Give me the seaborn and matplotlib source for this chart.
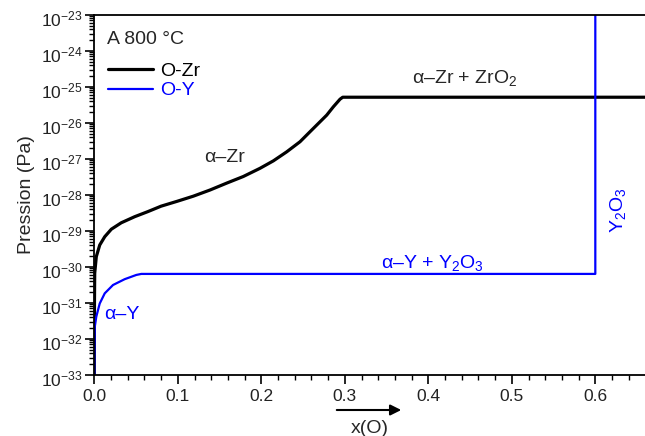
import numpy as np
import pandas as pd
import matplotlib
matplotlib.use("Agg")
import matplotlib.pyplot as plt
from matplotlib.ticker import LogLocator, NullFormatter, MultipleLocator, FormatStrFormatter
from matplotlib.transforms import ScaledTranslation
from matplotlib.lines import Line2D
import seaborn as sns

# ---- data ----
zr_x = [0.0, 0.0002, 0.0005, 0.0024, 0.0065, 0.0125, 0.0204, 0.0323, 0.0484, 0.0643,
        0.0800, 0.0987, 0.1186, 0.1386, 0.1586, 0.1784, 0.1984, 0.2144, 0.2304,
        0.2463, 0.2583, 0.2783, 0.2862, 0.2943, 0.2975, 0.66]
zr_p = [1e-33, 1e-31, 6.6e-31, 1.9e-30, 4.0e-30, 6.8e-30, 1.1e-29, 1.66e-29, 2.45e-29, 3.4e-29,
        4.8e-29, 6.5e-29, 9.1e-29, 1.35e-28, 2.1e-28, 3.2e-28, 5.4e-28, 8.7e-28, 1.55e-27,
        2.95e-27, 5.6e-27, 1.62e-26, 2.75e-26, 4.5e-26, 5.1e-26, 5.1e-26]

y_x = [0.0, 0.0002, 0.0005, 0.0024, 0.0065, 0.0125, 0.0224, 0.0364, 0.0503, 0.0563, 0.6, 0.6]
y_p = [1e-33, 5e-33, 2.1e-32, 4.1e-32, 9.5e-32, 1.82e-31, 3.1e-31, 4.5e-31, 5.9e-31, 6.3e-31,
       6.3e-31, 1e-23]

x_ticks = [0.0, 0.1, 0.2, 0.3, 0.4, 0.5, 0.6]
temperature_label = "A 800 °C"
series_labels = ["O-Zr", "O-Y"]

df_zr = pd.DataFrame({"x": zr_x, "p": zr_p})
df_y = pd.DataFrame({"x": y_x, "p": y_p})

sns.set_style("ticks")
plt.rcParams["font.family"] = ["Liberation Sans", "DejaVu Sans"]
plt.rcParams["mathtext.fontset"] = "custom"
plt.rcParams["mathtext.rm"] = "Liberation Sans"
plt.rcParams["mathtext.it"] = "Liberation Sans:italic"
plt.rcParams["axes.unicode_minus"] = False

fig = plt.figure(figsize=(6.45, 4.36), dpi=100)
ax = fig.add_axes([0.1462, 0.1406, 0.8538, 0.8257])

sns.lineplot(data=df_zr, x="x", y="p", ax=ax, sort=False, estimator=None,
             color="black", linewidth=2.3, solid_joinstyle="round")
sns.lineplot(data=df_y, x="x", y="p", ax=ax, sort=False, estimator=None,
             color="#0000ff", linewidth=1.6, solid_joinstyle="round")

ax.set_yscale("log")
ax.set_ylim(1e-33, 1e-23)
ax.set_xlim(0, 0.6595)
ax.minorticks_on()

ax.yaxis.set_major_locator(LogLocator(base=10, numticks=20))
ax.yaxis.set_minor_locator(LogLocator(base=10, subs=tuple(range(2, 10)), numticks=200))
ax.yaxis.set_minor_formatter(NullFormatter())
ax.set_xticks(x_ticks)
ax.xaxis.set_major_formatter(FormatStrFormatter("%.1f"))
ax.xaxis.set_minor_locator(MultipleLocator(0.02))

ax.tick_params(axis="both", which="major", direction="out", length=6.5, width=1.2,
               labelsize=12.5, color="black", labelcolor="#222222", top=False, right=False)
ax.tick_params(axis="both", which="minor", direction="out", length=3.5, width=1.0,
               color="black", top=False, right=False, left=True, bottom=True)
ax.tick_params(axis="y", which="major", pad=2)

for s in ["left", "bottom", "top"]:
    ax.spines[s].set_linewidth(1.3)
    ax.spines[s].set_color("black")
ax.spines["right"].set_visible(False)

ax.set_ylabel("Pression (Pa)", fontsize=14, labelpad=4)
ax.set_xlabel("x(O)", fontsize=14, labelpad=12)

# temperature label and legend
ax.text(0.0152, 10 ** -23.68, temperature_label, fontsize=14, ha="left", va="center")
handles = [Line2D([], [], color="black", lw=2.3), Line2D([], [], color="#0000ff", lw=1.6)]
leg = ax.legend(handles, series_labels, loc="upper left", bbox_to_anchor=(0.0255, 0.868),
                frameon=False, fontsize=14, handlelength=2.3, handletextpad=0.35,
                labelspacing=0.1, borderpad=0, borderaxespad=0, labelcolor="linecolor")

# phase annotations
ax.text(0.1565, 10 ** -26.98, "α–Zr", fontsize=14, ha="center", va="center")
ax.text(0.443, 10 ** -24.76, r"α–Zr + ZrO$_2$", fontsize=14, ha="center", va="center")
ax.text(0.4045, 10 ** -29.9, r"α–Y + Y$_2$O$_3$", fontsize=14, ha="center", va="center",
        color="#0000ff")
ax.text(0.033, 10 ** -31.34, "α–Y", fontsize=14, ha="center", va="center", color="#0000ff")
ax.text(0.627, 10 ** -28.43, r"Y$_2$O$_3$", fontsize=14, ha="center", va="center",
        color="#0000ff", rotation=90)

# arrow above x label
ax.annotate("", xy=(404, 26), xytext=(334, 26), xycoords="figure pixels",
            textcoords="figure pixels",
            arrowprops=dict(arrowstyle="-|>", color="black", lw=1.5, mutation_scale=16))

# nudge the y tick labels slightly downward (as in the reference)
fig.canvas.draw()
shift = ScaledTranslation(0, -3 / 100, fig.dpi_scale_trans)
for tick in ax.yaxis.get_major_ticks():
    tick.label1.set_transform(tick.label1.get_transform() + shift)

fig.savefig("out.png", dpi=100)
